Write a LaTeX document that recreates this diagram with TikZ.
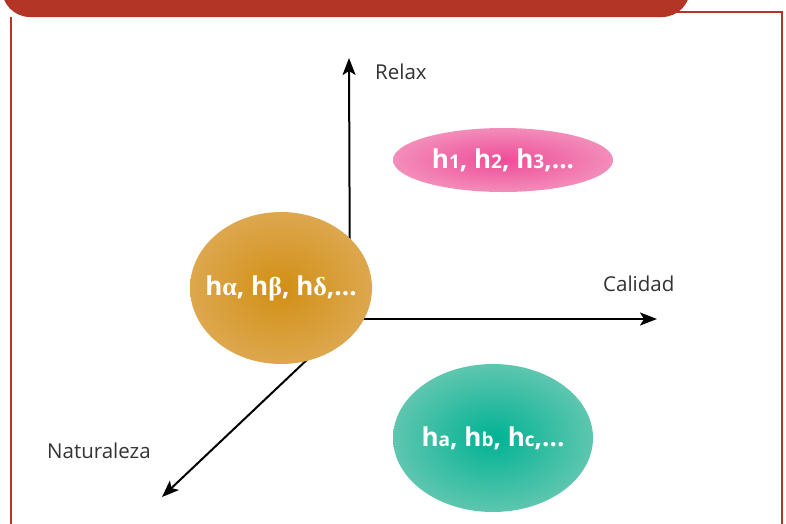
\documentclass[tikz,border=0pt]{standalone}
\usepackage{fontspec}
\setmainfont{Open Sans}
\newfontfamily\grk{Liberation Serif}
\usetikzlibrary{arrows.meta,shapes.geometric}
\definecolor{barred}{HTML}{B23526}
\definecolor{orin}{HTML}{D18F14}
\definecolor{orout}{HTML}{DDA74E}
\definecolor{pkin}{HTML}{EE4C98}
\definecolor{pkout}{HTML}{F38DBA}
\definecolor{tlin}{HTML}{00B294}
\definecolor{tlout}{HTML}{5EC6AF}
\definecolor{txt}{HTML}{333333}
\tikzset{
  axis/.style={line width=2pt, black, -{Stealth[length=17pt,width=13pt,inset=4pt]}},
  axlabel/.style={text=txt, font=\fontsize{20.5}{20.5}\selectfont, inner sep=0pt},
  blob/.style={ellipse, inner sep=0pt},
  blobtext/.style={inner sep=0pt, text=white, font=\bfseries\fontsize{26}{26}\selectfont},
  frameline/.style={barred, line width=2pt}
}
\newcommand{\sm}[1]{{\fontsize{19}{19}\selectfont #1}}
\begin{document}
\begin{tikzpicture}[x=1pt,y=-1pt]
\useasboundingbox (0,0) rectangle (786,523);
\clip (0,0) rectangle (786,523);
% frame
\draw[frameline] (11,17) -- (11,530);
\draw[frameline] (670,12) -- (782,12) -- (782,530);
\fill[barred, rounded corners=28pt] (2,-40) rectangle (690,17);
% axes
\coordinate (o) at (350,319);
\coordinate (up) at (349,58);
\coordinate (right) at (657,319);
\coordinate (dl) at (162,497);
\draw[axis] (o) -- (up);
\draw[axis] (o) -- (right);
\draw[axis] (o) -- (dl);
% ellipses
\node[blob, minimum width=182pt, minimum height=152pt, inner color=orin, outer color=orout] (a) at (281,288) {};
\node[blob, minimum width=220pt, minimum height=64pt, inner color=pkin, outer color=pkout] (b) at (503,160) {};
\node[blob, minimum width=200pt, minimum height=148pt, inner color=tlin, outer color=tlout] (c) at (493,438) {};
\node[blobtext] (ta) at (a.center) {h{\grk α}, h{\grk β}, h{\grk δ},...};
\node[blobtext] (tb) at (b.center) {h\sm{1}, h\sm{2}, h\sm{3},...};
\node[blobtext] (tc) at (c.center) {h\sm{a}, h\sm{b}, h\sm{c},...};
% labels
\node[axlabel, anchor=west] (lr) at (375,72) {Relax};
\node[axlabel, anchor=west] (lc) at (603,284) {Calidad};
\node[axlabel, anchor=west] (ln) at (47,451) {Naturaleza};
\end{tikzpicture}
\end{document}
